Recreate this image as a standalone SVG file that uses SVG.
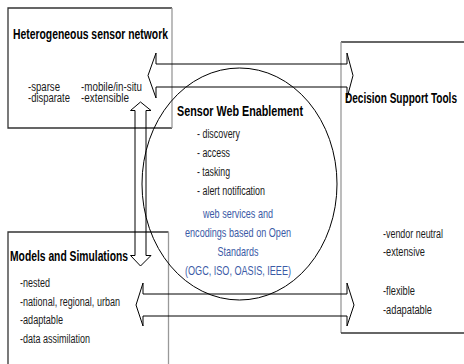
<svg xmlns="http://www.w3.org/2000/svg" width="464" height="364" viewBox="0 0 464 364">
  <style>
    .title { font-family: "Liberation Sans", Arial, sans-serif; font-weight: bold; font-size: 15.5px; fill: #000; }
    .item { font-family: "Liberation Sans", Arial, sans-serif; font-size: 12.5px; fill: #1a1a1a; }
    .std { font-family: "Liberation Sans", Arial, sans-serif; font-size: 13px; fill: #3b5aa6; }
    .edge-dark { stroke: #333; stroke-width: 1.3; fill: none; }
    .edge-gray { stroke: #999; stroke-width: 1.3; fill: none; }
    .arrow { stroke: #000; stroke-width: 1; fill: none; stroke-linejoin: miter; }
    .ring { stroke: #000; stroke-width: 1; fill: none; }
  </style>
  <rect width="464" height="364" fill="#fff"/>

  <!-- Heterogeneous sensor network -->
  <g id="sensor-network">
    <path class="edge-dark" d="M172,128 L8,128 L8,8 L172,8"/>
    <path class="edge-gray" d="M172,8 L172,128"/>
    <text class="title" x="13" y="38.5" textLength="155" lengthAdjust="spacingAndGlyphs">Heterogeneous sensor network</text>
    <text class="item" x="28" y="90.5" textLength="32" lengthAdjust="spacingAndGlyphs">-sparse</text>
    <text class="item" x="81" y="90.5" textLength="61" lengthAdjust="spacingAndGlyphs">-mobile/in-situ</text>
    <text class="item" x="28" y="102" textLength="42" lengthAdjust="spacingAndGlyphs">-disparate</text>
    <text class="item" x="81" y="102" textLength="48" lengthAdjust="spacingAndGlyphs">-extensible</text>
  </g>

  <!-- Decision Support Tools -->
  <g id="decision-support">
    <path class="edge-dark" d="M341,42 L466,42"/>
    <path class="edge-gray" d="M341,42 L341,333"/>
    <path class="edge-dark" d="M341,333 L466,333"/>
    <text class="title" x="345" y="102.5" textLength="112" lengthAdjust="spacingAndGlyphs">Decision Support Tools</text>
    <text class="item" x="383" y="237.5" textLength="60" lengthAdjust="spacingAndGlyphs">-vendor neutral</text>
    <text class="item" x="383" y="255.5" textLength="42" lengthAdjust="spacingAndGlyphs">-extensive</text>
    <text class="item" x="383" y="294.5" textLength="32" lengthAdjust="spacingAndGlyphs">-flexible</text>
    <text class="item" x="383" y="313.5" textLength="49" lengthAdjust="spacingAndGlyphs">-adapatable</text>
  </g>

  <!-- Models and Simulations -->
  <g id="models">
    <path class="edge-dark" d="M8,366 L8,232 L168.5,232"/>
    <path class="edge-gray" d="M168.5,232 L168.5,366"/>
    <text class="title" x="10" y="260.5" textLength="118" lengthAdjust="spacingAndGlyphs">Models and Simulations</text>
    <text class="item" x="20" y="287" textLength="30" lengthAdjust="spacingAndGlyphs">-nested</text>
    <text class="item" x="20" y="305.5" textLength="100" lengthAdjust="spacingAndGlyphs">-national, regional, urban</text>
    <text class="item" x="20" y="324" textLength="43" lengthAdjust="spacingAndGlyphs">-adaptable</text>
    <text class="item" x="20" y="342.5" textLength="70" lengthAdjust="spacingAndGlyphs">-data assimilation</text>
  </g>

  <!-- Sensor Web Enablement -->
  <g id="sensor-web-enablement">
    <ellipse class="ring" cx="239.5" cy="184" rx="97.5" ry="116"/>
    <text class="title" x="177" y="115.5" textLength="126" lengthAdjust="spacingAndGlyphs">Sensor Web Enablement</text>
    <text class="item" x="197" y="138" textLength="43" lengthAdjust="spacingAndGlyphs">- discovery</text>
    <text class="item" x="197" y="157" textLength="33" lengthAdjust="spacingAndGlyphs">- access</text>
    <text class="item" x="197" y="176" textLength="33" lengthAdjust="spacingAndGlyphs">- tasking</text>
    <text class="item" x="197" y="195" textLength="68" lengthAdjust="spacingAndGlyphs">- alert notification</text>
    <text class="std" x="238" y="217.5" text-anchor="middle" textLength="70" lengthAdjust="spacingAndGlyphs">web services and</text>
    <text class="std" x="238" y="237" text-anchor="middle" textLength="106" lengthAdjust="spacingAndGlyphs">encodings based on Open</text>
    <text class="std" x="238" y="256" text-anchor="middle" textLength="41" lengthAdjust="spacingAndGlyphs">Standards</text>
    <text class="std" x="238" y="274.5" text-anchor="middle" textLength="106" lengthAdjust="spacingAndGlyphs">(OGC, ISO, OASIS, IEEE)</text>
  </g>

  <!-- Block arrows -->
  <g id="connectors">
    <path class="arrow" d="M156,64 L347,64 L347,53 L353,75.5 L347,98 L347,87 L156,87 L156,98 L148,75.5 L156,53 Z"/>
    <path class="arrow" d="M143,294 L347,294 L347,283 L354,305 L347,326 L347,316 L143,316 L143,326 L136,305 L143,283 Z"/>
    <path class="arrow" d="M135,110.5 L135,255.5 L130.5,255.5 L140.5,266 L151,255.5 L146,255.5 L146,110.5 L151,110.5 L140.5,102 L130.5,110.5 Z"/>
  </g>
</svg>
